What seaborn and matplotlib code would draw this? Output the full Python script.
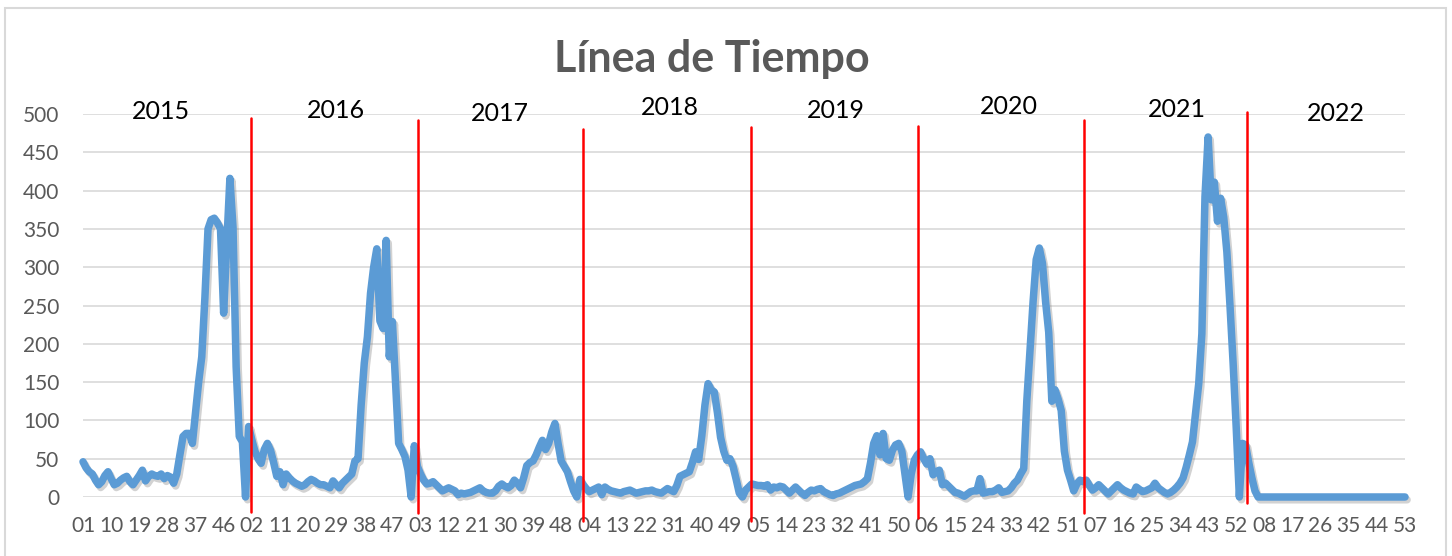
import matplotlib
matplotlib.use("Agg")
import matplotlib.pyplot as plt
import matplotlib.patheffects as pe
from matplotlib.patches import Rectangle
import pandas as pd
import seaborn as sns

# Casos semanales por año (semanas 01-53)
anios = ["2015", "2016", "2017", "2018", "2019", "2020", "2021", "2022"]

casos_2015 = [46, 38, 33, 30, 22, 16, 20, 28, 33, 24,
              16, 18, 22, 25, 27, 20, 16, 22, 28, 35,
              21, 27, 30, 28, 27, 30, 24, 28, 26, 18,
              30, 55, 79, 83, 83, 70, 110, 150, 183, 260,
              350, 362, 364, 358, 350, 240, 330, 416, 352, 170,
              79, 72, 0]
casos_2016 = [92, 75, 60, 50, 44, 62, 70, 61, 45, 27,
              33, 16, 30, 25, 21, 18, 16, 14, 16, 20,
              23, 21, 18, 16, 16, 14, 12, 21, 16, 12,
              18, 22, 26, 30, 47, 50, 120, 175, 209, 266,
              300, 324, 230, 220, 335, 183, 229, 150, 70, 62,
              53, 35, 0]
casos_2017 = [67, 40, 30, 22, 17, 18, 20, 16, 12, 8,
              10, 12, 10, 8, 3, 5, 4, 5, 6, 8,
              10, 12, 8, 6, 5, 5, 8, 14, 17, 14,
              12, 15, 22, 18, 12, 25, 41, 45, 47, 55,
              65, 74, 62, 70, 85, 96, 70, 47, 40, 33,
              20, 8, 0]
casos_2018 = [23, 16, 11, 7, 9, 11, 13, 3, 13, 10,
              8, 7, 6, 5, 7, 8, 9, 7, 5, 6,
              7, 8, 8, 9, 7, 6, 5, 8, 11, 9,
              7, 15, 27, 29, 31, 33, 45, 59, 49, 80,
              120, 148, 140, 137, 110, 78, 60, 48, 50, 40,
              23, 5, 0]
casos_2019 = [9, 13, 17, 16, 15, 15, 14, 16, 9, 13,
              12, 14, 13, 9, 5, 9, 13, 9, 5, 2,
              6, 9, 8, 10, 11, 7, 5, 3, 2, 4,
              5, 7, 9, 11, 13, 15, 16, 17, 20, 24,
              45, 70, 80, 55, 83, 50, 48, 61, 68, 70,
              60, 30, 0]
casos_2020 = [30, 48, 55, 59, 50, 43, 50, 29, 33, 35,
              16, 18, 14, 10, 6, 5, 3, 1, 4, 7,
              8, 8, 24, 5, 6, 7, 7, 9, 12, 6,
              7, 8, 12, 18, 22, 30, 37, 126, 190, 255,
              310, 325, 305, 255, 215, 125, 140, 128, 113, 60,
              35, 22, 8]
casos_2021 = [17, 22, 20, 22, 15, 9, 12, 16, 12, 8,
              4, 8, 12, 16, 12, 9, 7, 5, 4, 13,
              10, 7, 8, 10, 12, 18, 12, 9, 6, 4,
              6, 9, 13, 18, 25, 39, 55, 72, 110, 148,
              213, 392, 470, 388, 411, 360, 390, 365, 320, 250,
              175, 90, 0]
casos_2022 = [70, 68, 45, 25, 8, 0, 0, 0, 0, 0,
              0, 0, 0, 0, 0, 0, 0, 0, 0, 0,
              0, 0, 0, 0, 0, 0, 0, 0, 0, 0,
              0, 0, 0, 0, 0, 0, 0, 0, 0, 0,
              0, 0, 0, 0, 0, 0, 0, 0, 0, 0,
              0, 0, 0]

series = [casos_2015, casos_2016, casos_2017, casos_2018,
          casos_2019, casos_2020, casos_2021, casos_2022]

# líneas rojas separadoras (dibujadas a mano en el original)
sep_x = [53.6, 107.1, 160.0, 213.6, 267.2, 320.4, 372.3]
sep_top = [495, 492, 480, 483, 484, 492, 503]
sep_bottom = [-20, -21, -31, -31, -27, -21, -8]

# posiciones de las etiquetas de año
anio_x = [25, 80.8, 133.4, 187.9, 240.9, 296.3, 349.9, 400.9]
anio_y = [503, 505, 501, 508, 505, 510, 506, 501]

semanas = [f"{w:02d}" for _ in anios for w in range(1, 54)]
casos = [v for s in series for v in s]
df = pd.DataFrame({"idx": range(len(casos)), "casos": casos})

sns.set_style("white")
plt.rcParams["font.family"] = ["Lato", "DejaVu Sans"]

fig = plt.figure(figsize=(14.52, 5.56), dpi=100)
ax = fig.add_axes([83 / 1452, 1 - 497 / 556, (1405 - 83) / 1452, (497 - 114) / 556])

sns.lineplot(data=df, x="idx", y="casos", ax=ax, color="#5B9BD5", linewidth=5.4,
             clip_on=False, zorder=3)
line = ax.lines[0]
line.set_solid_joinstyle("round")
line.set_solid_capstyle("round")
line.set_path_effects([pe.SimpleLineShadow(offset=(1.5, -2), shadow_color="#7f7f7f", alpha=0.35),
                       pe.Normal()])

ax.set_xlim(0, len(casos) - 1)
ax.set_ylim(0, 500)
ax.set_yticks(range(0, 501, 50))
ticks = list(range(0, len(casos), 9))
ax.set_xticks(ticks)
ax.set_xticklabels([semanas[i] for i in ticks])
ax.grid(axis="y", color="#D9D9D9", linewidth=1.2)
ax.grid(axis="x", visible=False)
ax.set_axisbelow(True)
for s in ax.spines.values():
    s.set_visible(False)
ax.tick_params(axis="both", length=0, labelsize=15, colors="#595959")
ax.tick_params(axis="y", pad=17)
ax.tick_params(axis="x", pad=14)
ax.set_xlabel("")
ax.set_ylabel("")

for x, t, b in zip(sep_x, sep_top, sep_bottom):
    ax.plot([x, x], [b, t], color="#FF0000", linewidth=1.8, clip_on=False, zorder=4)

for a, x, y in zip(anios, anio_x, anio_y):
    ax.text(x, y, a, ha="center", va="center", fontsize=18, color="black")

fig.text(712 / 1452, 1 - 72 / 556, "Línea de Tiempo", ha="center", va="baseline",
         fontsize=31, fontweight="bold", color="#595959")

fig.add_artist(Rectangle((5 / 1452, -0.01), (1446 - 5) / 1452, 1.01 - 8 / 556,
                         transform=fig.transFigure, fill=False,
                         edgecolor="#D9D9D9", linewidth=1.5))

fig.savefig("out.png", dpi=100)
